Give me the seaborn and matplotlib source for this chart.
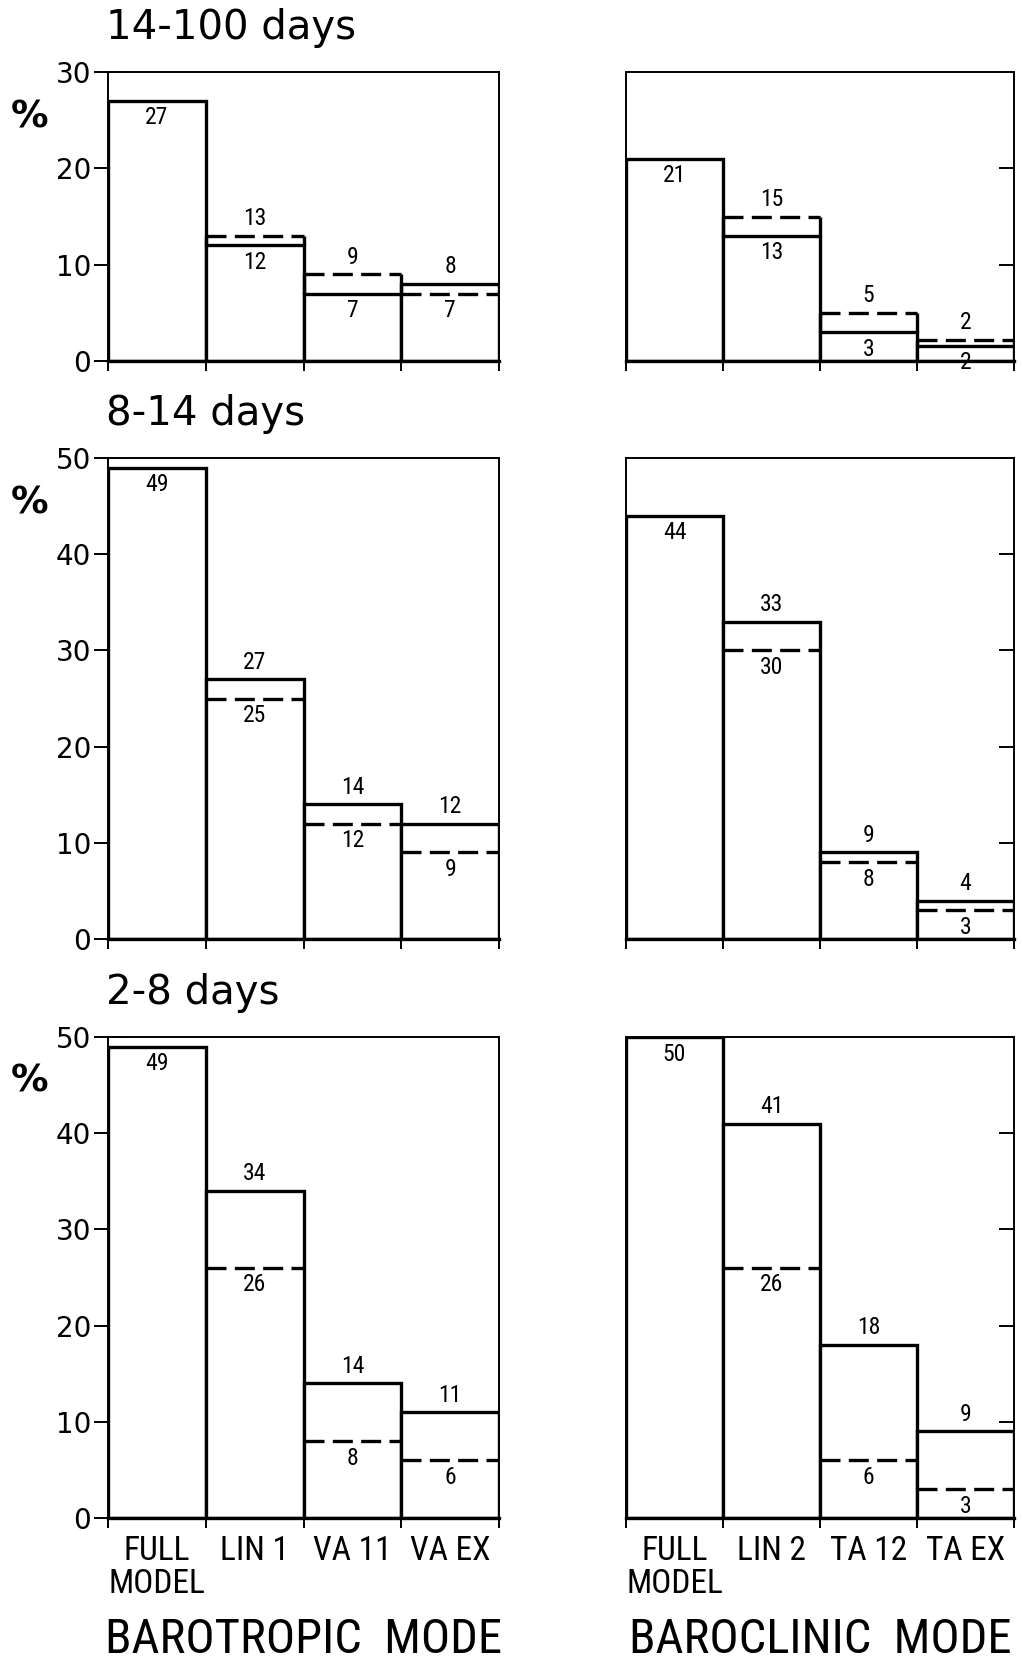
import matplotlib
matplotlib.use('Agg')
import matplotlib.pyplot as plt
from matplotlib import font_manager
import seaborn as sns
import numpy as np
import pandas as pd

sns.set_style('white')
plt.rcParams['font.family'] = ['DejaVu Sans']
plt.rcParams['text.color'] = 'black'
plt.rcParams['xtick.color'] = 'black'
plt.rcParams['ytick.color'] = 'black'

# ------------------------------------------------------------------
# data (percent)
# ------------------------------------------------------------------
periods = ['14-100 days', '8-14 days', '2-8 days']
ylims = [30, 50, 50]

baro_cats  = ['FULL\nMODEL', 'LIN 1', 'VA 11', 'VA EX']
clin_cats  = ['FULL\nMODEL', 'LIN 2', 'TA 12', 'TA EX']

# barotropic mode: solid / dashed levels per period
baro_solid_long  = [27, 12, 7, 8]
baro_dashed_long = [np.nan, 13, 9, 7]
baro_solid_mid   = [49, 27, 14, 12]
baro_dashed_mid  = [np.nan, 25, 12, 9]
baro_solid_short = [49, 34, 14, 11]
baro_dashed_short = [np.nan, 26, 8, 6]

# baroclinic mode
clin_solid_long  = [21, 13, 3, 1.6]
clin_dashed_long = [np.nan, 15, 5, 2.2]
clin_solid_mid   = [44, 33, 9, 4]
clin_dashed_mid  = [np.nan, 30, 8, 3]
clin_solid_short = [50, 41, 18, 9]
clin_dashed_short = [np.nan, 26, 6, 3]

modes = ['BAROTROPIC  MODE', 'BAROCLINIC  MODE']

# pick a narrow face if one is around, else plain DejaVu
names = {f.name for f in font_manager.fontManager.ttflist}
narrow = 'DejaVu Sans'
for cand in ['Liberation Sans Narrow', 'DejaVu Sans Condensed', 'Roboto Condensed',
             'Open Sans Condensed', 'Noto Sans Condensed']:
    if cand in names:
        narrow = cand
        break
condensed = any(f.name == 'DejaVu Sans' and 'ondensed' in str(f.stretch)
                for f in font_manager.fontManager.ttflist)
narrow_kw = {'family': narrow}
if narrow == 'DejaVu Sans' and condensed:
    narrow_kw['stretch'] = 'condensed'
is_narrow = narrow != 'DejaVu Sans' or condensed
scale = 1.0 if is_narrow else 0.8

W, H = 1023, 1664
fig = plt.figure(figsize=(W / 100, H / 100), dpi=100)

# axes boxes in pixels: (left, right) / (top, bottom)
col_x = [(108, 499), (626, 1014)]
row_y = [(72, 361), (458, 939), (1037, 1518)]

panels = [
    [(baro_solid_long, baro_dashed_long), (clin_solid_long, clin_dashed_long)],
    [(baro_solid_mid, baro_dashed_mid), (clin_solid_mid, clin_dashed_mid)],
    [(baro_solid_short, baro_dashed_short), (clin_solid_short, clin_dashed_short)],
]

BAR_LW = 2.4
FRAME_LW = 1.4


def label(ax, x, y, txt, above):
    ax.annotate(txt, (x, y), xytext=(0, 4 if above else -4),
                textcoords='offset points', ha='center',
                va='bottom' if above else 'top',
                fontsize=17 * (1 if is_narrow else 0.9), **narrow_kw)


for r in range(3):
    for c in range(2):
        x0, x1 = col_x[c]
        y0, y1 = row_y[r]
        ax = fig.add_axes([x0 / W, 1 - y1 / H, (x1 - x0) / W, (y1 - y0) / H])
        solid, dashed = panels[r][c]
        cats = baro_cats if c == 0 else clin_cats
        df = pd.DataFrame({'cat': cats, 'solid': solid, 'dashed': dashed})

        sns.barplot(data=df, x='cat', y='solid', width=1.0, color='white',
                    edgecolor='black', linewidth=BAR_LW, saturation=1,
                    ax=ax, zorder=2)

        for i, row in df.iterrows():
            s, d = row['solid'], row['dashed']
            if np.isnan(d):
                label(ax, i, s, f'{round(s)}', above=False)
                continue
            ax.hlines(d, i - 0.5, i + 0.5, colors='black', lw=BAR_LW,
                      linestyles=(0, (6, 2.5)), zorder=3)
            if d > s:
                ax.vlines([i - 0.5, i + 0.5], s, d, colors='black',
                          lw=BAR_LW, zorder=3)
            hi, lo = max(s, d), min(s, d)
            label(ax, i, hi, f'{round(hi)}', above=True)
            label(ax, i, lo, f'{round(lo)}', above=False)

        ax.set_xlim(-0.5, 3.5)
        ax.set_ylim(0, ylims[r])
        ax.set_xlabel('')
        ax.set_ylabel('')
        for sp in ax.spines.values():
            sp.set_visible(True)
            sp.set_linewidth(FRAME_LW)
            sp.set_color('black')
        ax.spines['bottom'].set_linewidth(BAR_LW)

        # x: boundaries as minor ticks, labels at centres
        ax.set_xticks(range(4))
        ax.set_xticks(np.arange(-0.5, 4, 1), minor=True)
        ax.tick_params(axis='x', which='major', length=0, pad=12)
        ax.tick_params(axis='x', which='minor', direction='out', length=7,
                       width=FRAME_LW, bottom=True)
        if r == 2:
            ax.set_xticklabels(cats, fontsize=24 * scale, linespacing=1.05,
                               **narrow_kw)
        else:
            ax.set_xticklabels([])

        yt = np.arange(0, ylims[r] + 1, 10)
        ax.set_yticks(yt)
        if c == 0:
            ax.tick_params(axis='y', direction='inout', length=20,
                           width=FRAME_LW, left=True, labelsize=20, pad=2)
            ax.set_yticklabels([str(v) for v in yt])
        else:
            ax.yaxis.tick_right()
            ax.tick_params(axis='y', direction='in', length=11,
                           width=FRAME_LW, right=True, labelright=False)
        ax.grid(False)

    # period title and % label
    fig.text(106 / W, 1 - (row_y[r][0] - 44) / H, periods[r], fontsize=29,
             ha='left', va='center')
    fig.text(30 / W, 1 - (row_y[r][0] + 45) / H, '%', fontsize=27,
             fontweight='bold', ha='center', va='center')

for c in range(2):
    x0, x1 = col_x[c]
    fig.text((x0 + x1) / 2 / W, 1 - 1640 / H, modes[c], fontsize=35 * scale,
             ha='center', va='center', **narrow_kw)

fig.savefig('out.png', dpi=100, facecolor='white')
